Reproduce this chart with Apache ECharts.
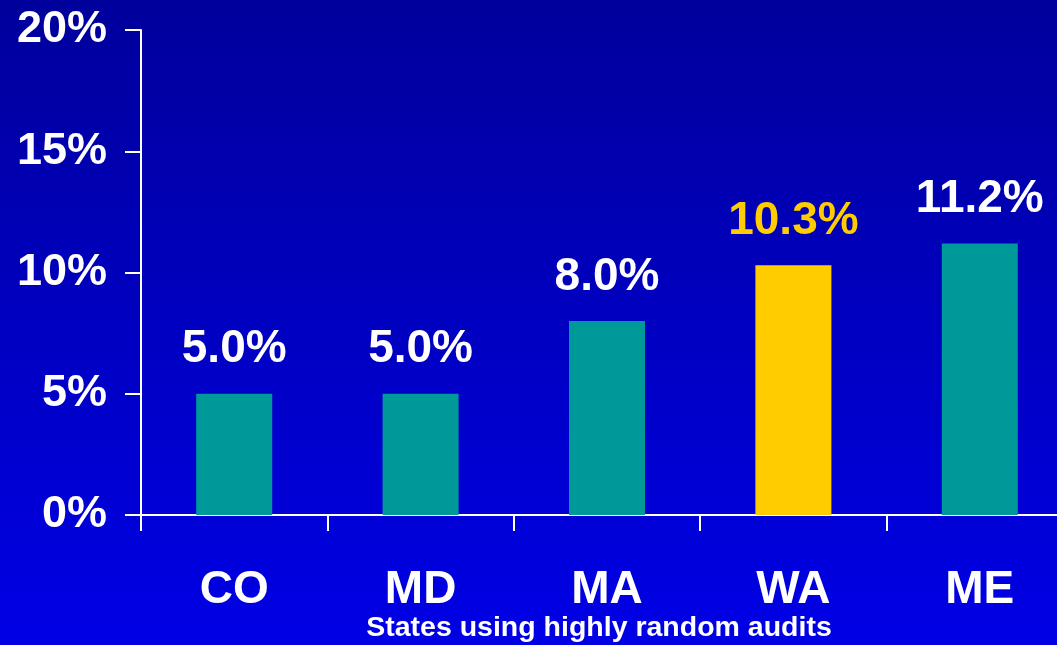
<!DOCTYPE html>
<html>
<head>
<meta charset="utf-8">
<script src="https://cdn.jsdelivr.net/npm/echarts@6/dist/echarts.min.js"></script>
<style>
  html, body { margin: 0; padding: 0; }
  #main { width: 1057px; height: 645px; }
</style>
</head>
<body>
<div id="main"></div>
<script>
// data
var states = ['CO', 'MD', 'MA', 'WA', 'ME'];
var rates = [5.0, 5.0, 8.0, 10.3, 11.2];
var highlight = ['WA'];
var axisTitle = 'States using highly random audits';

var teal = '#009999';
var gold = '#FFCC00';

var chart = echarts.init(document.getElementById('main'));

var barData = states.map(function (s, i) {
  var hi = highlight.indexOf(s) >= 0;
  return {
    value: rates[i],
    itemStyle: { color: hi ? gold : teal },
    label: { color: hi ? gold : '#ffffff' }
  };
});

var option = {
  backgroundColor: new echarts.graphic.LinearGradient(0, 0, 0, 1, [
    { offset: 0, color: '#00009C' },
    { offset: 1, color: '#0000E6' }
  ]),
  textStyle: { fontFamily: 'Liberation Sans, Arial, sans-serif' },
  grid: {
    left: 141,
    top: 30,
    width: 932,
    bottom: 130,
    outerBoundsMode: 'none'
  },
  xAxis: {
    type: 'category',
    data: states,
    axisLine: { lineStyle: { color: '#ffffff', width: 2 } },
    axisTick: { show: true, length: 16, lineStyle: { color: '#ffffff', width: 2 } },
    axisLabel: {
      color: '#ffffff',
      fontSize: 46,
      fontWeight: 'bold',
      margin: 52
    }
  },
  yAxis: {
    type: 'value',
    min: 0,
    max: 20,
    interval: 5,
    axisLine: { show: true, lineStyle: { color: '#ffffff', width: 2 } },
    axisTick: { show: true, length: 16, lineStyle: { color: '#ffffff', width: 2 } },
    splitLine: { show: false },
    axisLabel: {
      color: '#ffffff',
      fontSize: 45,
      fontWeight: 'bold',
      margin: 34,
      formatter: '{value}%'
    }
  },
  series: [{
    type: 'bar',
    data: barData,
    barWidth: 76,
    label: {
      show: true,
      position: 'top',
      distance: 21,
      fontSize: 46,
      fontWeight: 'bold',
      formatter: function (p) { return p.value.toFixed(1) + '%'; }
    }
  }],
  graphic: [{
    type: 'text',
    x: 599,
    y: 614,
    style: {
      text: axisTitle,
      fill: '#ffffff',
      textAlign: 'center',
      font: 'bold 28.5px "Liberation Sans", Arial, sans-serif'
    }
  }]
};

chart.setOption(option);
</script>
</body>
</html>
